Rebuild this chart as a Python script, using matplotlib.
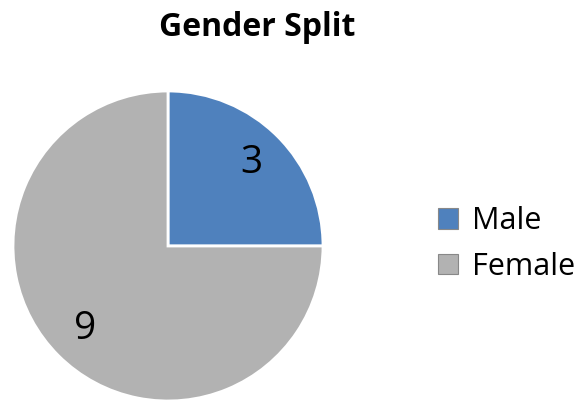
import matplotlib
matplotlib.use("Agg")
import matplotlib.pyplot as plt
import numpy as np

categories = ["Male", "Female"]
values = [3, 9]
colors = ["#4F81BD", "#B2B2B2"]
title = "Gender Split"

plt.rcParams['font.family'] = ['Open Sans', 'DejaVu Sans']

fig = plt.figure(figsize=(5.88, 4.01), dpi=100)
ax = fig.add_axes([13/588, 0.0, 310/588, 310/401])
wedges, texts, autotexts = ax.pie(
    values, colors=colors, startangle=90, counterclock=False,
    autopct=lambda p: f"{p*sum(values)/100:.0f}", pctdistance=0.76,
    wedgeprops=dict(edgecolor="white", linewidth=2),
    textprops=dict(fontsize=28, color="black"))
ax.set_xlim(-1, 1)
ax.set_ylim(-1, 1)
ax.set_aspect("auto")

fig.text(257/588, 1 - 28/401, title, ha="center", va="center",
         fontsize=23, fontweight="bold")

handles = [plt.Rectangle((0, 0), 1, 1, facecolor=c, edgecolor="#888888", linewidth=0.8)
           for c in colors]
fig.legend(handles, categories, loc="center left",
           bbox_to_anchor=(438/588, 1 - 244/401), frameon=False, borderpad=0,
           borderaxespad=0,
           fontsize=22, handlelength=0.65, handleheight=0.65,
           handletextpad=0.45, labelspacing=0.5)

fig.savefig("out.png", dpi=100)
